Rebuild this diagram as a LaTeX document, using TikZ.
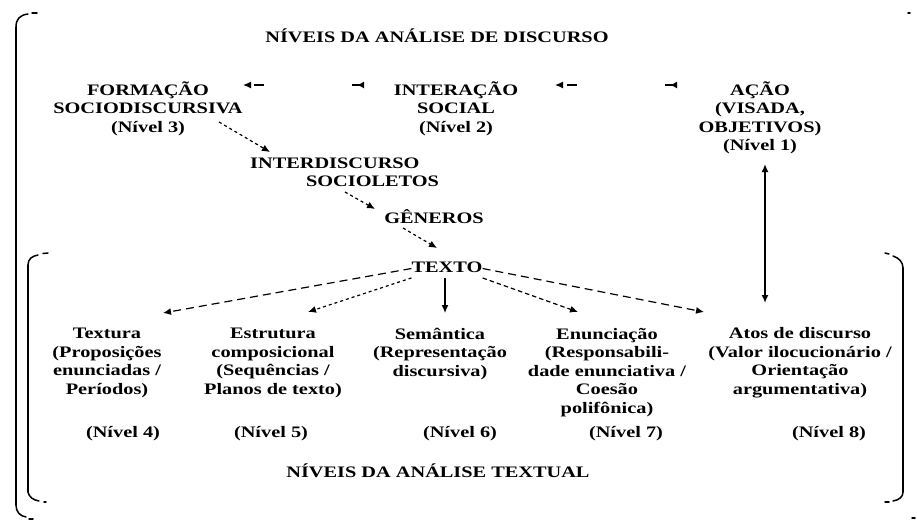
\documentclass[tikz,border=0pt]{standalone}
\usepackage{fontspec}
\setmainfont{Liberation Serif}
\usetikzlibrary{arrows.meta}
\newcommand\tx[1]{\scalebox{1.27}[1]{\begin{tabular}{@{}c@{}}#1\end{tabular}}}
\newcommand\txl[1]{\scalebox{1.27}[1]{\begin{tabular}{@{}l@{}}#1\end{tabular}}}
\begin{document}
\begin{tikzpicture}[x=1pt,y=-1pt,
  txt/.style={font=\bfseries\fontsize{16}{18.5}\selectfont, inner sep=0pt},
  brk/.style={line width=1.5pt, line cap=round},
  tipA/.style={-{Latex[length=8pt,width=7pt]}},
  dlong/.style={tipA, line width=1.2pt, dash pattern=on 8pt off 5pt},
  dfine/.style={tipA, line width=1.2pt, dash pattern=on 3pt off 3pt},
  dmid/.style={tipA, line width=1.2pt, dash pattern=on 4.5pt off 3pt},
  solid arr/.style={tipA, line width=1.3pt},
  stub/.style={{Latex[length=7pt,width=7pt,reversed]}-{Latex[length=8pt,width=7pt]}, line width=1.3pt, dash pattern=on 8pt off 88pt on 10pt}
]
\useasboundingbox (0,0) rectangle (917,520);

% ---------- brackets ----------
\draw[brk] (16,27) .. controls (16,19) and (20,15) .. (28,14);
\draw[brk] (32,13) -- (37,13);
\draw[brk] (16,27) -- (16,505);
\draw[brk] (16,505) .. controls (16,512) and (20,516) .. (26,517);
\draw[brk] (29,519) -- (33,519);
\draw[brk] (908,13) -- (910,13);
\draw[brk] (912,518) -- (915,518);
% inner
\draw[brk] (28,265) .. controls (28,259) and (32,256) .. (38,255);
\draw[brk] (43,253.5) -- (48,253);
\draw[brk] (28,265) -- (28,492);
\draw[brk] (28,492) .. controls (29,497) and (33,500) .. (39,501);
\draw[brk] (44,502) -- (46,502);
\draw[brk] (885,253) -- (889,254);
\draw[brk] (893,256) .. controls (899,258) and (903,262) .. (903,268);
\draw[brk] (903,268) -- (903,492);
\draw[brk] (903,492) .. controls (903,497) and (899,500) .. (893,501);
\draw[brk] (885,502) -- (889,502);

% ---------- texts ----------
\node[txt] (titulo) at (437,38.5) {\tx{NÍVEIS DA ANÁLISE DE DISCURSO}};
\node[txt] (formacao) at (148,109.5) {\tx{FORMAÇÃO\\SOCIODISCURSIVA\\(Nível 3)}};
\node[txt] (interacao) at (456,109.5) {\tx{INTERAÇÃO\\SOCIAL\\(Nível 2)}};
\node[txt] (acao) at (760,119) {\tx{AÇÃO\\(VISADA,\\OBJETIVOS)\\(Nível 1)}};
\node[txt, anchor=west] (interdisc) at (250,174) {\txl{INTERDISCURSO\\\hspace*{44pt}SOCIOLETOS}};
\node[txt] (generos) at (434,219.5) {\tx{GÊNEROS}};
\node[txt] (texto) at (447,268.5) {\tx{TEXTO}};

\node[txt] (textura) at (107,363) {\tx{Textura\\(Proposições\\enunciadas /\\Períodos)}};
\node[txt] (estrutura) at (273,363) {\tx{Estrutura\\composicional\\(Sequências /\\Planos de texto)}};
\node[txt] (semantica) at (440,354) {\tx{Semântica\\(Representação\\discursiva)}};
\node[txt] (enunciacao) at (607,372.5) {\tx{Enunciação\\(Responsabili-\\dade enunciativa /\\Coesão\\polifônica)}};
\node[txt] (atos) at (800,363) {\tx{Atos de discurso\\(Valor ilocucionário /\\Orientação\\argumentativa)}};

\node[txt] (n4) at (123,433.5) {\tx{(Nível 4)}};
\node[txt] (n5) at (271,433.5) {\tx{(Nível 5)}};
\node[txt] (n6) at (460,433.5) {\tx{(Nível 6)}};
\node[txt] (n7) at (626,433.5) {\tx{(Nível 7)}};
\node[txt] (n8) at (829,433.5) {\tx{(Nível 8)}};
\node[txt] (textual) at (438,473.5) {\tx{NÍVEIS DA ANÁLISE TEXTUAL}};

% ---------- connector end points ----------
\coordinate (ia) at (364,85);  \coordinate (fa) at (243,85);
\coordinate (ab) at (677,85);  \coordinate (ib) at (555,85);
\coordinate (f1) at (219,122); \coordinate (f2) at (270,152);
\coordinate (s1) at (345,192); \coordinate (s2) at (375,209);
\coordinate (g1) at (403,228); \coordinate (g2) at (437,248);
\coordinate (e1) at (163,313);
\coordinate (e2) at (308,312);
\coordinate (e3) at (445,313);
\coordinate (e4) at (578,312);
\coordinate (e5) at (704,312);
\coordinate (v1) at (765,164);
\coordinate (v2) at (765,303);

% ---------- connectors ----------
\draw[stub] (ia) -- (fa);
\draw[stub] (ab) -- (ib);
\draw[dfine] (f1) -- (f2);
\draw[dfine] (s1) -- (s2);
\draw[dfine] (g1) -- (g2);
\draw[dlong] (texto.west) -- (e1);
\draw[dfine] (texto.south west) -- (e2);
\draw[solid arr] (texto.south -| e3) -- (e3);
\draw[dmid] (texto.south east) -- (e4);
\draw[dlong] (texto.east) -- (e5);
\draw[line width=1.6pt, {Latex[length=8pt,width=7pt]}-{Latex[length=8pt,width=7pt]}] (v1) -- (v2);
\end{tikzpicture}
\end{document}
